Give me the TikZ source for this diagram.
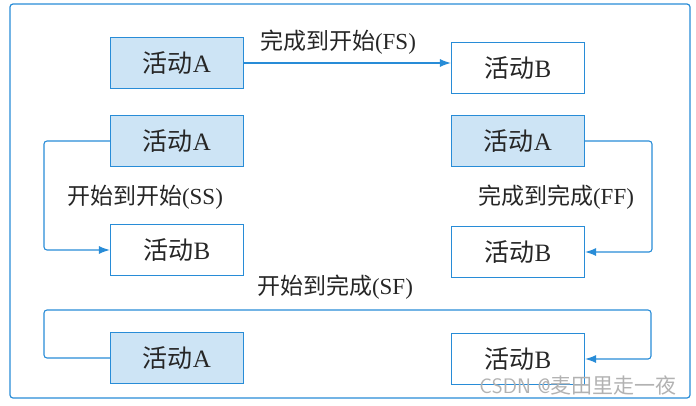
\documentclass[tikz,border=0pt]{standalone}
\usepackage{fontspec}
\setmainfont{Liberation Serif}
\newfontfamily\cjk{Noto Sans CJK SC}
\usetikzlibrary{arrows.meta}
\definecolor{ln}{RGB}{40,140,215}
\definecolor{fillb}{RGB}{205,228,245}
\begin{document}
\begin{tikzpicture}[x=1pt,y=-1pt,
  act/.style={draw=ln,line width=1.2pt,minimum width=133pt,minimum height=51pt,inner sep=0pt,text=black!85,font=\fontsize{25}{27}\selectfont},
  actA/.style={act,fill=fillb},
  conn/.style={draw=ln,line width=1.1pt,rounded corners=3pt,-{Latex[length=11pt,width=8pt]}},
  lab/.style={font=\fontsize{23}{25}\selectfont,inner sep=0pt,text=black!85}]
\useasboundingbox (0,0) rectangle (696,405);
\draw[ln,line width=1.2pt,rounded corners=3pt] (10,4) rectangle (690,398);
\node[actA] (a1) at (177,63) {\cjk 活动\rmfamily A};
\node[act] (b1) at (518,68) {\cjk 活动\rmfamily B};
\node[actA] (a2) at (177,141) {\cjk 活动\rmfamily A};
\node[actA] (a3) at (518,141) {\cjk 活动\rmfamily A};
\node[act] (b2) at (177,250) {\cjk 活动\rmfamily B};
\node[act] (b3) at (518,252) {\cjk 活动\rmfamily B};
\node[actA] (a4) at (177,358) {\cjk 活动\rmfamily A};
\node[act] (b4) at (518,359) {\cjk 活动\rmfamily B};
\draw[conn] (a1.east) -- (a1.east -| b1.west);
\node[lab] at (338,42) {\cjk 完成到开始\rmfamily(FS)};
\draw[conn] (a2.west) -- (44,141) -- (44,250) -- (b2.west);
\node[lab] at (145,197) {\cjk 开始到开始\rmfamily(SS)};
\draw[conn] (a3.east) -- (652,141) -- (652,252) -- (b3.east);
\node[lab] at (556,197) {\cjk 完成到完成\rmfamily(FF)};
\draw[conn] (a4.west) -- (44,358) -- (44,310) -- (651,310) -- (651,359) -- (b4.east);
\node[lab] at (335,287) {\cjk 开始到完成\rmfamily(SF)};
\node[font=\fontsize{21}{23}\selectfont,text=gray!60,inner sep=0pt] (wm) at (578,385) {\sffamily CSDN @\cjk 麦田里走一夜};
\end{tikzpicture}
\end{document}
